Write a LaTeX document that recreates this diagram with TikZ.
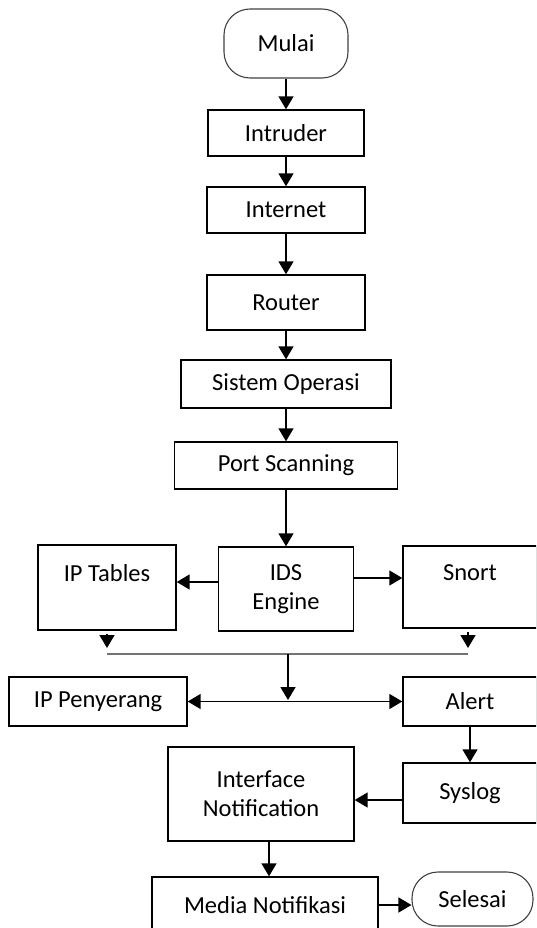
\documentclass[tikz,border=0pt]{standalone}
\usepackage{fontspec}
\setmainfont{Carlito}
\usepackage{tikz}
\usetikzlibrary{arrows.meta,positioning,calc}

\begin{document}
\begin{tikzpicture}[x=1pt,y=-1pt,
    box/.style={draw,line width=1.4pt,inner sep=0pt,align=center,
      font=\fontsize{24.5}{29}\selectfont},
    term/.style={box,draw=black!75,line width=1.1pt,rounded corners=26pt},
    arr/.style={-{Triangle[length=13pt,width=15pt]},line width=1.5pt},
    arrboth/.style={{Triangle[length=13pt,width=15pt]}-{Triangle[length=13pt,width=15pt]},line width=1.5pt},
    joinline/.style={draw=black!55,line width=1.6pt}]
      \path[use as bounding box,clip] (0,0) rectangle (536,928);
      \node[term,minimum width=124pt,minimum height=69pt] (mulai) at (286,43.5){Mulai};
      \node[box,minimum width=156pt,minimum height=46pt] (intruder) at (286,133){Intruder};
      \node[box,minimum width=158pt,minimum height=46pt] (internet) at (286,210){Internet};
      \node[box,minimum width=158pt,minimum height=55pt] (router) at (286,302.5){Router};
      \node[box,minimum width=210pt,minimum height=48pt] (sistem) at (286,384){Sistem Operasi};
      \node[box,minimum width=223pt,minimum height=47pt] (port) at (286,465.5){Port Scanning};
      \node[box,minimum width=135pt,minimum height=84pt] (ids) at (286,589){IDS\\Engine};
      \node[box,minimum width=138pt,minimum height=85pt] (iptables) at (107,587.5){IP Tables\\\mbox{}};
      \node[box,minimum width=134pt,minimum height=82pt] (snort) at (470,587){Snort\\\mbox{}};
      \node[box,minimum width=178pt,minimum height=49pt] (penyerang) at (98,701.5){IP Penyerang};
      \node[box,minimum width=134pt,minimum height=49pt] (alert) at (470,701.5){Alert};
      \node[box,minimum width=134pt,minimum height=60pt] (syslog) at (470,793){Syslog};
      \node[box,minimum width=186pt,minimum height=94pt] (iface) at (261,794){Interface\\Notification};
      \node[box,minimum width=226pt,minimum height=56pt] (media) at (265,905){Media Notifikasi};
      \node[term,minimum width=121pt,minimum height=54pt] (selesai) at (472.5,899){Selesai};
      \coordinate (joinL) at (107,654);
      \coordinate (joinR) at (468,654);
      \coordinate (joinM) at (288,654);
      \coordinate (split) at (288,702);
      \draw[arr](mulai) -- (intruder);
      \draw[arr](intruder) -- (internet);
      \draw[arr](internet) -- (router);
      \draw[arr](router) -- (sistem);
      \draw[arr](sistem) -- (port);
      \draw[arr](port) -- (ids);
      \draw[arr]([yshift=7pt]ids.west) -- ([yshift=7pt]ids.west -| iptables.east);
      \draw[arr]([yshift=11pt]ids.east) -- ([yshift=11pt]ids.east -| snort.west);
      \draw[arr]([yshift=-3pt]iptables.south -| joinL) -- ([yshift=6pt]joinL);
      \draw[arr]([yshift=-3pt]snort.south -| joinR) -- ([yshift=6pt]joinR);
      \draw[joinline](joinL) -- (joinR);
      \draw[arr](joinM) -- ([yshift=2pt]split);
      \draw[arrboth](penyerang) -- (alert);
      \draw[arr](alert) -- (syslog);
      \draw[arr]([yshift=-7pt]syslog.west) -- ([yshift=-7pt]syslog.west -| iface.east);
      \draw[arr]([xshift=8pt]iface.south) -- ([xshift=8pt]iface.south |- media.north);
      \draw[arr](media.east) -- (media.east -| selesai.west);
    \end{tikzpicture}
\end{document}
